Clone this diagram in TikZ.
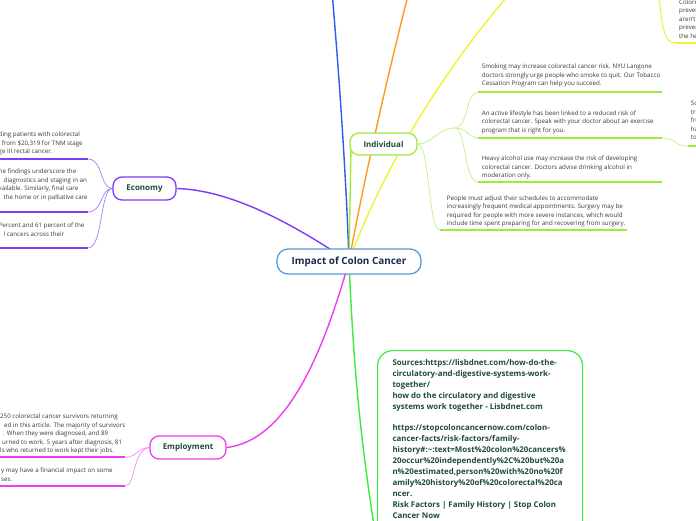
\documentclass[tikz,border=0pt]{standalone}
\usepackage{fontspec}
\setmainfont{Open Sans}
\usetikzlibrary{calc}
\pgfdeclarelayer{bg}
\pgfsetlayers{bg,main}
\definecolor{cblue}{HTML}{2B5BF0}
\definecolor{corange}{HTML}{FF9A1F}
\definecolor{cyellow}{HTML}{F2F230}
\definecolor{cpurple}{HTML}{7B3DF5}
\definecolor{cpurplel}{HTML}{A57DFB}
\definecolor{cmag}{HTML}{EE3DEE}
\definecolor{cmagl}{HTML}{F38AF3}
\definecolor{clime}{HTML}{9DEB3A}
\definecolor{climel}{HTML}{BDF287}
\definecolor{cgreen}{HTML}{3DEB3D}
\definecolor{cnode}{HTML}{1E4B3B}
\definecolor{ccenter}{HTML}{5B9BD5}
\definecolor{cnavy}{HTML}{1B2850}
\definecolor{ctext}{HTML}{3A3A3A}
\begin{document}
\begin{tikzpicture}[x=1pt,y=-1pt,
  topic/.style={draw, line width=1.3pt, rounded corners=9pt, fill=white,
    font=\fontsize{8}{9.6}\selectfont\bfseries, text=cnode, inner sep=0pt, minimum height=23pt},
  body/.style={anchor=north west, inner sep=0pt, align=left, text=ctext,
    font=\fontsize{6.2}{8.5}\selectfont},
  branch/.style={line width=1.4pt},
  link/.style={line width=0.7pt},
  uline/.style={line width=1.7pt}]
\begin{pgfonlayer}{bg}
\fill[white] (0,0) rectangle (696,520);
\end{pgfonlayer}
\useasboundingbox (0,0) rectangle (696,520);

% main nodes
\node[topic, draw=ccenter, text=cnavy, minimum width=144pt, minimum height=25pt,
  rounded corners=11pt, font=\fontsize{9.9}{11}\selectfont\bfseries] (root) at (349,261.5) {Impact of Colon Cancer};
\node[topic, draw=clime, minimum width=67pt, minimum height=22pt] (ind) at (383.5,144) {Individual};
\node[topic, draw=cpurple, minimum width=63pt] (eco) at (144.5,188.5) {Economy};
\node[topic, draw=cmag, minimum width=76pt] (emp) at (188,447.5) {Employment};
\node[draw=cgreen, line width=1.2pt, rounded corners=15pt, anchor=north west,
  minimum width=205pt, minimum height=215pt, inner sep=0pt, fill=white] (src) at (377,350) {};
\node[anchor=north west, inner sep=0pt, align=left, text=cnode,
  font=\fontsize{7.9}{10.9}\selectfont\bfseries] (tSrc) at (392.3,357.6)
  {\strut Sources:https://lisbdnet.com/how-do-the-\\
   circulatory-and-digestive-systems-work-\\
   together/\\
   how do the circulatory and digestive\\
   systems work together - Lisbdnet.com\\[10.9pt]
   https://stopcoloncancernow.com/colon-\\
   cancer-facts/risk-factors/family-\\
   history\#:\textasciitilde:text=Most\%20colon\%20cancers\%\\
   20occur\%20independently\%2C\%20but\%20a\\
   n\%20estimated,person\%20with\%20no\%20f\\
   amily\%20history\%20of\%20colorectal\%20ca\\
   ncer.\\
   Risk Factors | Family History | Stop Colon\\
   Cancer Now};

% texts: individual
\node[body] (tSmoke) at (481.7,62.7) {\strut Smoking may increase colorectal cancer risk. NYU Langone\\doctors strongly urge people who smoke to quit. Our Tobacco\\Cessation Program can help you succeed.};
\node[body] (tActive) at (481.7,109.1) {\strut An active lifestyle has been linked to a reduced risk of\\colorectal cancer. Speak with your doctor about an exercise\\program that is right for you.};
\node[body] (tHeavy) at (481.7,154.7) {\strut Heavy alcohol use may increase the risk of developing\\colorectal cancer. Doctors advise drinking alcohol in\\moderation only.};
\node[body] (tPeople) at (446.7,194.1) {\strut People must adjust their schedules to accommodate\\increasingly frequent medical appointments. Surgery may be\\required for people with more severe instances, which would\\include time spent preparing for and recovering from surgery.};
\node[body] (tSo) at (690.7,99.7) {\strut Some\\treatment\\from\\have\\to};
\node[body] (tTop) at (679,-1.8) {\strut Colorectal\\prevention\\aren't\\prevention\\the health};

% texts: economy
\node[body] (tE1) at (-1.5,130.7) {\strut ding patients with colorectal\\l from \$20,319 for TNM stage\\ge III rectal cancer.};
\node[body] (tE2) at (-1.5,167.4) {\strut he findings underscore the\\\hspace*{5pt}diagnostics and staging in an\\vailable. Similarly, final care\\\hspace*{5pt}the home or in palliative care};
\node[body] (tE3) at (-1.5,221.7) {\strut Percent and 61 percent of the\\\hspace*{5pt}l cancers across their};

% texts: employment
\node[body] (tM1) at (0,412.4) {\strut 250 colorectal cancer survivors returning\\\hspace*{4pt}ed in this article. The majority of survivors\\\hspace*{3pt}. When they were diagnosed, and 89\\\hspace*{2pt}urned to work. 5 years after diagnosis, 81\\ls who returned to work kept their jobs.};
\node[body] (tM2) at (1,466.7) {\strut y may have a financial impact on some\\ses.};

% coordinates
\coordinate (blueEnd) at (331,-20);
\coordinate (orangeEnd) at (412,-20);
\coordinate (yellowEnd) at (522,-20);
\coordinate (srcIn) at (377,545);
\coordinate (indIn) at (351,146);
\coordinate (jn) at (455,128);
\coordinate (s1) at (478,92);   \coordinate (s2) at (662,92);
\coordinate (a1) at (478,138);  \coordinate (a2) at (662,138);
\coordinate (h1) at (478,182);  \coordinate (h2) at (662,182);
\coordinate (p1) at (440,230);  \coordinate (p2) at (627,230);
\coordinate (so1) at (688,146); \coordinate (so2) at (700,146);
\coordinate (y0) at (657,-20);  \coordinate (y1) at (675,43); \coordinate (y2) at (700,43);
\coordinate (e1s) at (-10,159); \coordinate (e1) at (88,159);
\coordinate (e2s) at (-10,212); \coordinate (e2) at (88,212);
\coordinate (e3s) at (-10,248); \coordinate (e3) at (88,248);
\coordinate (m1s) at (-10,457.3); \coordinate (m1) at (125,457.3);
\coordinate (m2s) at (-10,486); \coordinate (m2) at (125,486);

\begin{pgfonlayer}{bg}
% main branches
\draw[branch, cblue] (root.center) .. controls (346,170) and (338,60) .. (blueEnd);
\draw[branch, corange] (root.center) .. controls (362,190) and (386,80) .. (orangeEnd);
\draw[branch, cyellow] (root.center) .. controls (378,180) and (440,70) .. (yellowEnd);
\draw[branch, clime] (root.center) -- (indIn);
\draw[branch, cpurple] (eco.east) .. controls (230,190) and (290,222) .. (root.center);
\draw[branch, cmag] (root.center) .. controls (325,345) and (290,440) .. (emp.east);
\draw[branch, cgreen] (root.center) .. controls (354,380) and (362,450) .. (srcIn);
% individual children
\draw[link, climel] (ind.east) .. controls (432,144) and (438,128) .. (jn);
\draw[link, climel] (jn) .. controls (468,128) and (466,92) .. (s1);
\draw[link, climel] (jn) .. controls (468,128) and (468,138) .. (a1);
\draw[link, climel] (jn) .. controls (466,128) and (464,182) .. (h1);
\draw[link, climel] (ind.east) .. controls (430,144) and (428,230) .. (p1);
\draw[link, climel] (a2) .. controls (676,138) and (674,146) .. (so1);
\draw[uline, clime] (s1) -- (s2);
\draw[uline, clime] (a1) -- (a2);
\draw[uline, clime] (h1) -- (h2);
\draw[uline, clime] (p1) -- (p2);
\draw[uline, clime] (so1) -- (so2);
% yellow child at top right
\draw[link, cyellow, line width=1pt] (y0) .. controls (662,20) and (662,43) .. (y1);
\draw[uline, cyellow] (y1) -- (y2);
% economy children
\draw[uline, cpurple] (e1s) -- (e1);
\draw[uline, cpurple] (e2s) -- (e2);
\draw[uline, cpurple] (e3s) -- (e3);
\draw[link, cpurplel] (e1) .. controls (103,159) and (100,188.5) .. (eco.west);
\draw[link, cpurplel] (e2) .. controls (103,212) and (100,188.5) .. (eco.west);
\draw[link, cpurplel] (e3) .. controls (103,248) and (100,188.5) .. (eco.west);
% employment children
\draw[uline, cmag] (m1s) -- (m1);
\draw[uline, cmag] (m2s) -- (m2);
\draw[link, cmagl] (m1) .. controls (137,457.3) and (138,447.5) .. (emp.west);
\draw[link, cmagl] (m2) .. controls (136,486) and (132,450) .. (emp.west);
\end{pgfonlayer}
\end{tikzpicture}
\end{document}
